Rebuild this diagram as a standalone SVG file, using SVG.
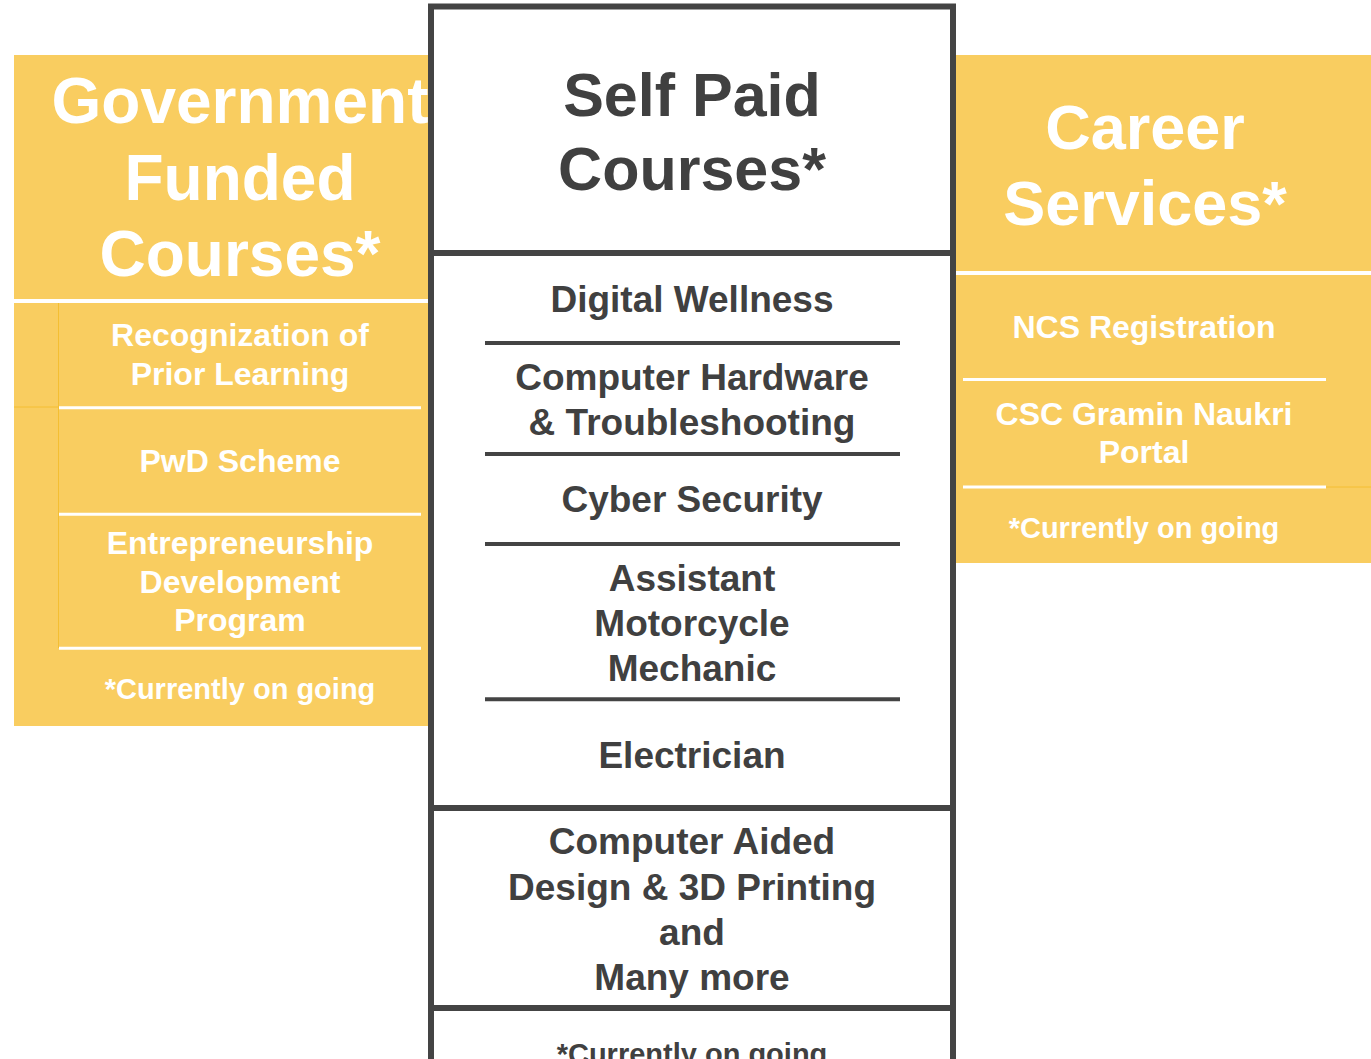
<svg xmlns="http://www.w3.org/2000/svg" width="1371" height="1059" viewBox="0 0 1371 1059">
<style>
text{font-family:"Liberation Sans",Arial,sans-serif;font-weight:bold;text-anchor:middle}
.w{fill:#ffffff}
.d{fill:#404040}
.panel{fill:#F9CD60}
.wl{stroke:#ffffff;fill:none}
.sl{stroke:#F4BE32;stroke-width:1;fill:none}
.box{fill:#ffffff;stroke:#444444;stroke-width:6}
.div{stroke:#444444;stroke-width:4}
.t1{font-size:64px}
.t2{font-size:32px}
.t3{font-size:29px}
.c1{font-size:61px}
.c2{font-size:37px}
</style>
<rect width="1371" height="1059" fill="#ffffff"/>

<g id="government-funded">
<rect class="panel" x="14" y="55" width="414" height="671"/>
<line class="sl" x1="58.5" y1="303" x2="58.5" y2="648"/>
<line class="sl" x1="14" y1="407" x2="58" y2="407"/>
<line class="wl" x1="14" y1="301" x2="428" y2="301" stroke-width="4"/>
<line class="wl" x1="59" y1="407.7" x2="421" y2="407.7" stroke-width="3"/>
<line class="wl" x1="59" y1="514.3" x2="421" y2="514.3" stroke-width="3"/>
<line class="wl" x1="59" y1="648.3" x2="421" y2="648.3" stroke-width="3"/>
<text class="w t1" x="240" y="123">Government</text>
<text class="w t1" x="240" y="200">Funded</text>
<text class="w t1" x="240" y="276">Courses*</text>
<text class="w t2" x="240" y="346">Recognization of</text>
<text class="w t2" x="240" y="385">Prior Learning</text>
<text class="w t2" x="240" y="472">PwD Scheme</text>
<text class="w t2" x="240" y="554">Entrepreneurship</text>
<text class="w t2" x="240" y="593">Development</text>
<text class="w t2" x="240" y="631">Program</text>
<text class="w t3" x="240" y="699">*Currently on going</text>
</g>

<g id="career-services">
<rect class="panel" x="956" y="55" width="415" height="508"/>
<line class="sl" x1="1326" y1="487" x2="1371" y2="487"/>
<line class="wl" x1="956" y1="273" x2="1371" y2="273" stroke-width="4"/>
<line class="wl" x1="963" y1="379.5" x2="1326" y2="379.5" stroke-width="3"/>
<line class="wl" x1="963" y1="487" x2="1326" y2="487" stroke-width="3"/>
<text class="w t1" x="1145" y="149" style="font-size:63px">Career</text>
<text class="w t1" x="1145" y="225" style="font-size:63px">Services*</text>
<text class="w t2" x="1144" y="338">NCS Registration</text>
<text class="w t2" x="1144" y="425">CSC Gramin Naukri</text>
<text class="w t2" x="1144" y="463">Portal</text>
<text class="w t3" x="1144" y="538">*Currently on going</text>
</g>

<g id="self-paid-header">
<rect class="box" x="431" y="6.5" width="522" height="246.5"/>
<text class="d c1" x="692" y="116">Self Paid</text>
<text class="d c1" x="692" y="190">Courses*</text>
</g>

<g id="self-paid-list">
<rect class="box" x="431" y="253" width="522" height="555"/>
<line class="div" x1="485" y1="343" x2="900" y2="343"/>
<line class="div" x1="485" y1="454" x2="900" y2="454"/>
<line class="div" x1="485" y1="544" x2="900" y2="544"/>
<line class="div" x1="485" y1="699.3" x2="900" y2="699.3"/>
<text class="d c2" x="692" y="312">Digital Wellness</text>
<text class="d c2" x="692" y="390">Computer Hardware</text>
<text class="d c2" x="692" y="435">&amp; Troubleshooting</text>
<text class="d c2" x="692" y="512">Cyber Security</text>
<text class="d c2" x="692" y="591">Assistant</text>
<text class="d c2" x="692" y="636">Motorcycle</text>
<text class="d c2" x="692" y="681">Mechanic</text>
<text class="d c2" x="692" y="768">Electrician</text>
</g>

<g id="self-paid-more">
<rect class="box" x="431" y="808" width="522" height="200"/>
<text class="d c2" x="692" y="854">Computer Aided</text>
<text class="d c2" x="692" y="900">Design &amp; 3D Printing</text>
<text class="d c2" x="692" y="945">and</text>
<text class="d c2" x="692" y="990">Many more</text>
</g>

<g id="self-paid-note">
<rect class="box" x="431" y="1008" width="522" height="80"/>
<text class="d t3" x="692" y="1064">*Currently on going</text>
</g>

<g id="connectors"></g>
</svg>
